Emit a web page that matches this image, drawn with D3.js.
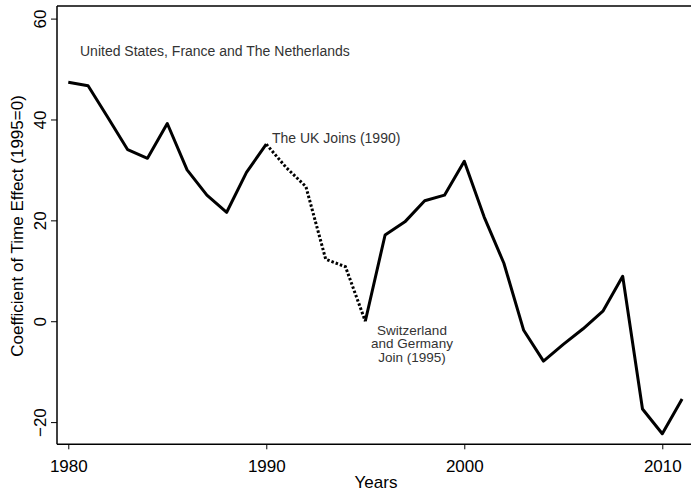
<!DOCTYPE html>
<html>
<head>
<meta charset="utf-8">
<script src="https://cdn.jsdelivr.net/npm/d3@7"></script>
<style>
  body { margin: 0; background: #fff; }
  svg { display: block; font-family: "Liberation Sans", Arial, sans-serif; }
</style>
</head>
<body>
<svg id="chart" width="691" height="492"></svg>
<script>
const years = [1980,1981,1982,1983,1984,1985,1986,1987,1988,1989,1990,1991,1992,1993,1994,1995,1996,1997,1998,1999,2000,2001,2002,2003,2004,2005,2006,2007,2008,2009,2010,2011];
const coef  = [47.4,46.7,40.4,34.0,32.3,39.2,30.0,25.0,21.6,29.5,35.1,30.5,26.7,12.3,10.8,0.0,17.1,19.7,23.9,25.0,31.7,20.7,11.5,-1.8,-7.9,-4.6,-1.5,2.0,8.9,-17.4,-22.3,-15.4];
const xTicks = [1980,1990,2000,2010];
const yTicks = [-20,0,20,40,60];
const dottedFrom = 1990, dottedTo = 1995;

const svg = d3.select("#chart");
const x = d3.scaleLinear().domain([1979.43, 2011.45]).range([57, 691]);
const y = d3.scaleLinear().domain([-24.4, 62.5]).range([444.3, 6]);

const data = years.map((yr, i) => ({yr, v: coef[i]}));
const line = d3.line().x(d => x(d.yr)).y(d => y(d.v));

// frame: top line
svg.append("line").attr("x1", 57).attr("x2", 691).attr("y1", 6).attr("y2", 6)
  .attr("stroke", "#000").attr("stroke-width", 1.5);

// axes
const xAxis = svg.append("g").attr("transform", "translate(0,444.3)")
  .call(d3.axisBottom(x).tickValues(xTicks).tickFormat(d3.format("d")).tickSize(5).tickPadding(11));
xAxis.select(".domain").attr("d", "M57,0H691").attr("stroke-width", 1.5);
xAxis.selectAll("text").attr("font-size", 17).attr("fill", "#000").attr("font-family", "Liberation Sans, Arial, sans-serif");

const yAxis = svg.append("g").attr("transform", "translate(57,0)")
  .call(d3.axisLeft(y).tickValues(yTicks).tickSize(6).tickPadding(0));
yAxis.select(".domain").attr("d", "M0,6V444.3").attr("stroke-width", 1.5);
yAxis.selectAll(".tick text")
  .attr("font-size", 17).attr("fill", "#000").attr("font-family", "Liberation Sans, Arial, sans-serif")
  .attr("x", null).attr("dy", null)
  .attr("text-anchor", "middle")
  .attr("transform", "translate(-15,0) rotate(-90)")
  .attr("y", 0).attr("dominant-baseline", "middle");

// series
const solid1 = data.filter(d => d.yr <= dottedFrom);
const dotted = data.filter(d => d.yr >= dottedFrom && d.yr <= dottedTo);
const solid2 = data.filter(d => d.yr >= dottedTo);
[solid1, solid2].forEach(seg => {
  svg.append("path").datum(seg).attr("d", line)
    .attr("fill", "none").attr("stroke", "#000").attr("stroke-width", 3).attr("stroke-linejoin", "round");
});
svg.append("path").datum(dotted).attr("d", line)
  .attr("fill", "none").attr("stroke", "#000").attr("stroke-width", 3)
  .attr("stroke-dasharray", "2.5,2");

// annotations
const ann = svg.append("g").attr("fill", "#333").attr("font-size", 14);
ann.append("text").attr("x", 80).attr("y", 56).text("United States, France and The Netherlands");
ann.append("text").attr("x", 272).attr("y", 142.5).text("The UK Joins (1990)");
["Switzerland", "and Germany", "Join (1995)"].forEach((t, i) => {
  ann.append("text").attr("text-anchor", "middle").attr("font-size", 13.5)
    .attr("x", 412).attr("y", 334.5 + i * 13.5).text(t);
});

// axis titles
svg.append("text").attr("x", 376).attr("y", 487.5).attr("text-anchor", "middle")
  .attr("font-size", 17).attr("fill", "#000").text("Years");
svg.append("text").attr("transform", "translate(23,226) rotate(-90)").attr("text-anchor", "middle")
  .attr("font-size", 17).attr("fill", "#000").text("Coefficient of Time Effect (1995=0)");
</script>
</body>
</html>
